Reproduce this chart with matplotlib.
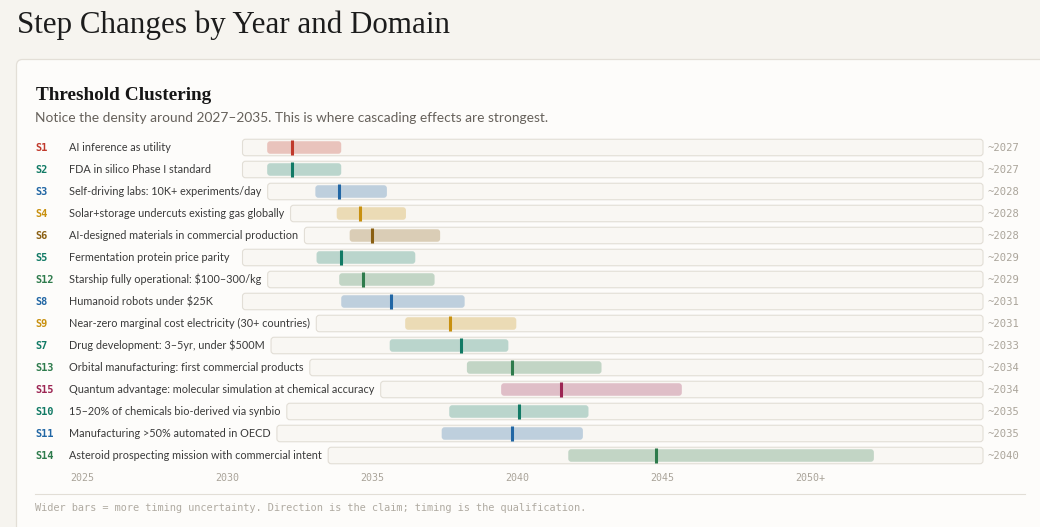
import matplotlib
matplotlib.use('Agg')
import matplotlib.pyplot as plt
from matplotlib.patches import FancyBboxPatch
from matplotlib.transforms import blended_transform_factory

# Data: step changes, their timing window and best guess
codes = ['S1', 'S2', 'S3', 'S4', 'S6', 'S5', 'S12', 'S8', 'S9', 'S7',
         'S13', 'S15', 'S10', 'S11', 'S14']
labels = [
    'AI inference as utility',
    'FDA in silico Phase I standard',
    'Self-driving labs: 10K+ experiments/day',
    'Solar+storage undercuts existing gas globally',
    'AI-designed materials in commercial production',
    'Fermentation protein price parity',
    'Starship fully operational: $100\u2013300/kg',
    'Humanoid robots under $25K',
    'Near-zero marginal cost electricity (30+ countries)',
    'Drug development: 3\u20135yr, under $500M',
    'Orbital manufacturing: first commercial products',
    'Quantum advantage: molecular simulation at chemical accuracy',
    '15\u201320% of chemicals bio-derived via synbio',
    'Manufacturing >50% automated in OECD',
    'Asteroid prospecting mission with commercial intent',
]
year_lo = [2026, 2026, 2027, 2027, 2027, 2028, 2028, 2029, 2029, 2030,
           2032, 2031, 2032, 2032, 2036]
year_mid = [2027, 2027, 2028, 2028, 2028, 2029, 2029, 2031, 2031, 2033,
            2034, 2034, 2035, 2035, 2040]
year_hi = [2029, 2029, 2030, 2030, 2031, 2032, 2032, 2034, 2034, 2035,
           2038, 2040, 2038, 2038, 2050]
domains = ['red', 'teal', 'blue', 'gold', 'brown', 'teal', 'green', 'blue',
           'gold', 'teal', 'green', 'crimson', 'teal', 'blue', 'green']
tick_years = [2025, 2030, 2035, 2040, 2045, 2050]
tick_labels = ['2025', '2030', '2035', '2040', '2045', '2050+']

palette = {
    'red': '#c0392b',
    'teal': '#117a65',
    'blue': '#2166a4',
    'gold': '#c8900e',
    'brown': '#8a5f12',
    'green': '#2e7b4c',
    'crimson': '#9c2553',
}

YEAR_MIN, YEAR_MAX = 2025, 2055
W, H, DPI = 1040, 527, 100
MONO = 'DejaVu Sans Mono'
SANS = 'Lato'
SERIF = 'Liberation Serif'


def fig_rect(x, y, w, h):
    # pixel box measured from the top-left -> figure fraction
    return [x / W, (H - y - h) / H, w / W, h / H]


fig = plt.figure(figsize=(W / DPI, H / DPI), dpi=DPI, facecolor='#f6f4ef')
base = fig.add_axes([0, 0, 1, 1])
base.set_xlim(0, W)
base.set_ylim(H, 0)
base.axis('off')
renderer = fig.canvas.get_renderer()

# page title + card
base.text(17, 33, 'Step Changes by Year and Domain', family=SERIF,
          fontsize=22.3, color='#1c1c1c', va='baseline')
base.add_patch(FancyBboxPatch((16.5, 59.5), 1100, 600,
                              boxstyle='round,pad=0,rounding_size=6',
                              fc='#fdfcfa', ec='#e3dfd7', lw=0.9))
base.text(36, 99.5, 'Threshold Clustering', family=SERIF, weight='bold',
          fontsize=13.9, color='#161616', va='baseline')
base.text(35, 121.5, 'Notice the density around 2027\u20132035. This is where '
          'cascading effects are strongest.', family=SANS, fontsize=9.9,
          color='#66615b', va='baseline')

ROW0, PITCH, TRACK_H = 147.5, 22, 16.5
TRACK_END = 983

for i in range(len(codes)):
    c = palette[domains[i]]
    yc = ROW0 + i * PITCH
    base.text(35, yc + 3.6, codes[i], family=MONO, weight='bold',
              fontsize=7.4, color=c, va='baseline')
    t = base.text(69, yc + 3.8, labels[i], family=SANS, fontsize=7.8,
                  color='#3a3a3a', va='baseline', parse_math=False)
    right = t.get_window_extent(renderer).x1
    ts = max(242.5, right + 6.3)
    wpx = TRACK_END - ts

    ax = fig.add_axes(fig_rect(ts, yc - TRACK_H / 2, wpx, TRACK_H))
    ax.set_xlim(YEAR_MIN, YEAR_MAX)
    ax.set_ylim(0, 1)
    ax.axis('off')
    ax.add_patch(FancyBboxPatch((0, 0), 1, 1,
                                boxstyle=f'round,pad=0,rounding_size={3 / wpx}',
                                mutation_aspect=wpx / TRACK_H,
                                transform=ax.transAxes, fc='#f9f7f3',
                                ec='#e2ded6', lw=0.8, clip_on=False))
    ppy = wpx / (YEAR_MAX - YEAR_MIN)
    ax.add_patch(FancyBboxPatch((year_lo[i], 0.12), year_hi[i] - year_lo[i], 0.76,
                                boxstyle=f'round,pad=0,rounding_size={3 / ppy}',
                                mutation_aspect=ppy / TRACK_H,
                                fc=c, alpha=0.27, ec='none'))
    ax.vlines(year_mid[i], 0.04, 0.96, colors=c, lw=2.2)

    base.text(988, yc + 3.6, f'~{year_mid[i]}', family=MONO, fontsize=7.6,
              color='#aaa49a', va='baseline')

# year scale under the rows
tax = fig.add_axes(fig_rect(70, 468, 870, 16))
tax.set_xlim(YEAR_MIN, YEAR_MAX)
tax.axis('off')
trans = blended_transform_factory(tax.transData, base.transData)
for yr, lab in zip(tick_years, tick_labels):
    base.text(yr, 481, lab, transform=trans, family=MONO, fontsize=7.2,
              color='#aaa49a', ha='left', va='baseline')

base.plot([35, 1025], [494, 494], color='#e2ded6', lw=0.8)
base.text(35, 511, 'Wider bars = more timing uncertainty. Direction is the '
          'claim; timing is the qualification.', family=MONO, fontsize=7.4,
          color='#b0aba2', va='baseline')

fig.savefig('out.png', dpi=DPI, facecolor=fig.get_facecolor())
